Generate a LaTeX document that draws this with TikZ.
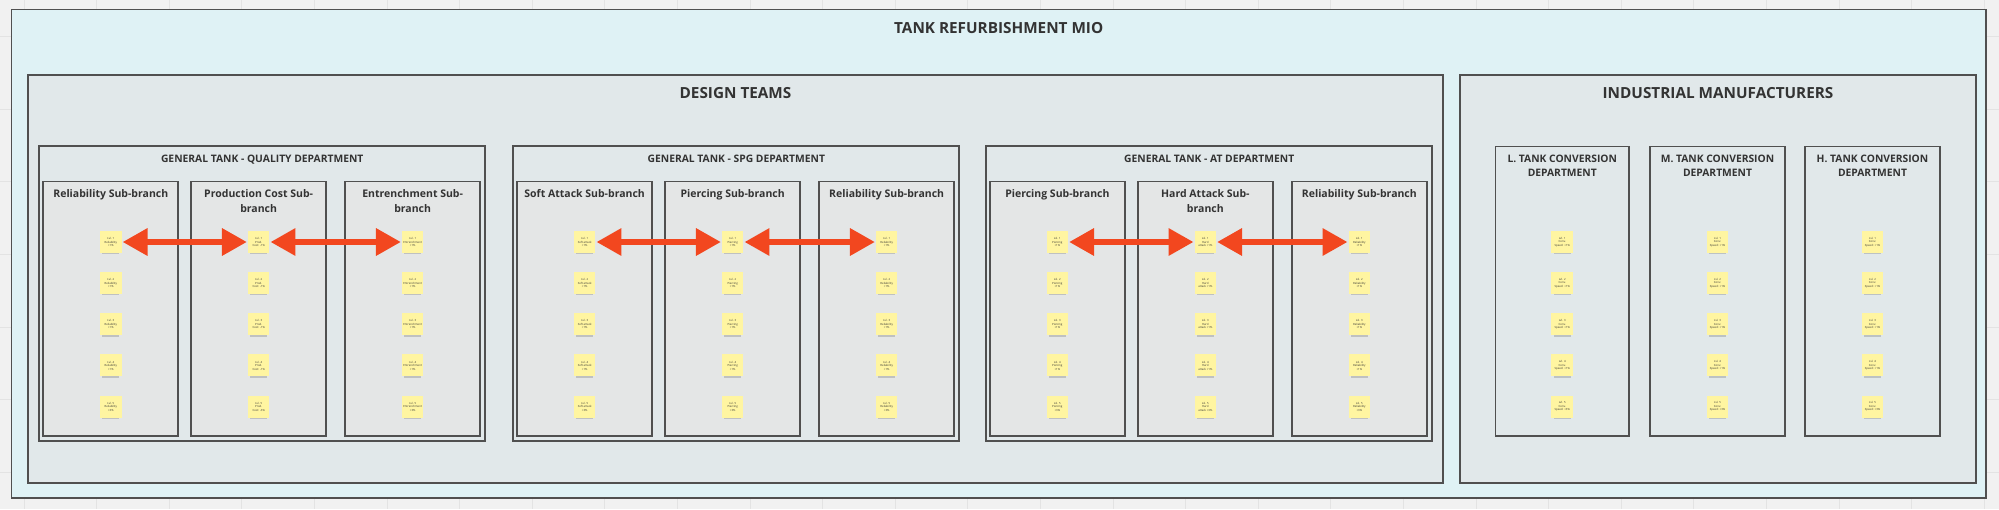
\documentclass[tikz,border=0pt]{standalone}
\usepackage{fontspec}
\setmainfont{Open Sans}
\usetikzlibrary{arrows.meta}
\definecolor{pagebg}{HTML}{F1F1F1}
\definecolor{gridc}{HTML}{E3E3E3}
\definecolor{outerfill}{HTML}{DFF2F5}
\definecolor{teamfill}{HTML}{E1E8EA}
\definecolor{subfill}{HTML}{E4E6E6}
\definecolor{framec}{HTML}{505050}
\definecolor{txt}{HTML}{333333}
\definecolor{notefill}{HTML}{FFF5A1}
\definecolor{arrowred}{HTML}{F2471F}
\tikzset{
  frame/.style={draw=framec, line width=1.8pt, inner sep=0pt, outer sep=0pt},
  gridline/.style={draw=gridc, line width=0.8pt},
  bigtitle/.style={font=\fontsize{15.3}{18}\selectfont\bfseries, text=txt, anchor=base, inner sep=0pt},
  depttitle/.style={font=\fontsize{10.3}{14}\selectfont\bfseries, text=txt, anchor=base, inner sep=0pt, align=center},
  subtitle/.style={font=\fontsize{10.5}{15}\selectfont\bfseries, text=txt, anchor=base, inner sep=0pt, align=center},
  sticky/.style={fill=notefill, minimum width=21.5pt, minimum height=22pt, inner sep=0pt, outer sep=0pt,
    align=center, text=txt, font=\fontsize{2.8}{3.5}\selectfont},
  noteshadow/.style={fill=black, opacity=0.16},
  biarrow/.style={draw=arrowred, line width=6.5pt,
    {Triangle[length=25pt,width=26pt]}-{Triangle[length=25pt,width=26pt]},
    shorten <=1pt, shorten >=1pt}
}
\newcommand\mkframe[6]{\node[frame,fill=#6,minimum width={#4-#2},minimum height={#5-#3}] (#1) at ({(#2+#4)/2},{(#3+#5)/2}) {};}
% name, x1, x2, title, baseline of last line
\newcommand\subbr[5]{\mkframe{#1}{#2}{181.5}{#3}{436}{subfill}
  \node[subtitle] (#1-t) at ({(#2+#3)/2},#5) {#4};}
\newcommand\inddept[4]{\mkframe{#1}{#2}{146.5}{#3}{436}{teamfill}
  \node[depttitle] (#1-t) at ({(#2+#3)/2},176.9) {#4};}
\newcommand\notebox[4]{\fill[noteshadow] (#2-8.5,#3+10) rectangle (#2+8.5,#3+12.3);
  \node[sticky] (#1) at (#2,#3) {#4};}
\newcommand\lp{\ifnum\r=5 3\else 1\fi}
\newcommand\notecol[3]{\foreach \r in {1,...,5}{\pgfmathsetmacro\yy{242+41.15*(\r-1)}\notebox{#1-\r}{#2}{\yy}{#3}}}
\begin{document}
\begin{tikzpicture}[x=1pt,y=-1pt]
\useasboundingbox (0,0) rectangle (1999,509);
\fill[pagebg] (0,0) rectangle (1999,509);
\foreach \gx in {0,...,27} \draw[gridline] ({24+72.6*\gx},0) -- ++(0,509);
\foreach \gy in {0,...,6} \draw[gridline] (0,{36.5+72.6*\gy}) -- ++(1999,0);
% outer frame
\mkframe{outer}{11.5}{9.5}{1986}{498}{outerfill}
\node[bigtitle] (outer-t) at (998.7,33.4) {TANK REFURBISHMENT MIO};
% main groups
\mkframe{design}{28}{75.3}{1443}{483}{teamfill}
\node[bigtitle] (design-t) at (735.5,98.4) {DESIGN TEAMS};
\mkframe{indus}{1460}{75.3}{1976}{483}{teamfill}
\node[bigtitle] (indus-t) at (1718,98.4) {INDUSTRIAL MANUFACTURERS};
% departments
\mkframe{qual}{39.3}{146.3}{485}{441}{teamfill}
\node[depttitle] (qual-t) at (262.2,162.9) {GENERAL TANK - QUALITY DEPARTMENT};
\mkframe{spg}{513.3}{146.3}{959.3}{441}{teamfill}
\node[depttitle] (spg-t) at (736.3,162.9) {GENERAL TANK - SPG DEPARTMENT};
\mkframe{at}{986}{146.3}{1432.3}{441}{teamfill}
\node[depttitle] (at-t) at (1209.2,162.9) {GENERAL TANK - AT DEPARTMENT};
% sub-branches
\subbr{q-rel}{43.3}{178.3}{Reliability Sub-branch}{197.1}
\subbr{q-prod}{191.3}{326}{Production Cost Sub-\\branch}{212.1}
\subbr{q-ent}{345.3}{480}{Entrenchment Sub-\\branch}{212.1}
\subbr{s-soft}{517.3}{652}{Soft Attack Sub-branch}{197.1}
\subbr{s-pier}{665.3}{800}{Piercing Sub-branch}{197.1}
\subbr{s-rel}{819.3}{954}{Reliability Sub-branch}{197.1}
\subbr{a-pier}{990}{1124.7}{Piercing Sub-branch}{197.1}
\subbr{a-hard}{1138}{1272.7}{Hard Attack Sub-\\branch}{212.1}
\subbr{a-rel}{1292}{1426.7}{Reliability Sub-branch}{197.1}
\inddept{i-l}{1495.5}{1629}{L. TANK CONVERSION\\DEPARTMENT}
\inddept{i-m}{1650}{1785}{M. TANK CONVERSION\\DEPARTMENT}
\inddept{i-h}{1805}{1940}{H. TANK CONVERSION\\DEPARTMENT}
% sticky notes
\notecol{qn-rel}{110.8}{Lvl. \r\\Reliability\\+\lp\%}
\notecol{qn-prod}{258.7}{Lvl. \r\\Prod.\\Cost: -\lp\%}
\notecol{qn-ent}{412.7}{Lvl. \r\\Entrenchment\\+\lp\%}
\notecol{sn-soft}{584.7}{Lvl. \r\\Soft attack\\+\lp\%}
\notecol{sn-pier}{732.7}{Lvl. \r\\Piercing\\+\lp\%}
\notecol{sn-rel}{886.7}{Lvl. \r\\Reliability\\+\lp\%}
\notecol{an-pier}{1057.3}{Lvl. \r\\Piercing\\+\lp\%}
\notecol{an-hard}{1205.3}{Lvl. \r\\Hard\\attack +\lp\%}
\notecol{an-rel}{1359.3}{Lvl. \r\\Reliability\\+\lp\%}
\notecol{in-l}{1562.2}{Lvl. \r\\Conv.\\Speed: +\lp\%}
\notecol{in-m}{1717.5}{Lvl. \r\\Conv.\\Speed: +\lp\%}
\notecol{in-h}{1872.5}{Lvl. \r\\Conv.\\Speed: +\lp\%}
% arrows
\draw[biarrow] (qn-rel-1) -- (qn-prod-1);
\draw[biarrow] (qn-prod-1) -- (qn-ent-1);
\draw[biarrow] (sn-soft-1) -- (sn-pier-1);
\draw[biarrow] (sn-pier-1) -- (sn-rel-1);
\draw[biarrow] (an-pier-1) -- (an-hard-1);
\draw[biarrow] (an-hard-1) -- (an-rel-1);
\end{tikzpicture}
\end{document}
